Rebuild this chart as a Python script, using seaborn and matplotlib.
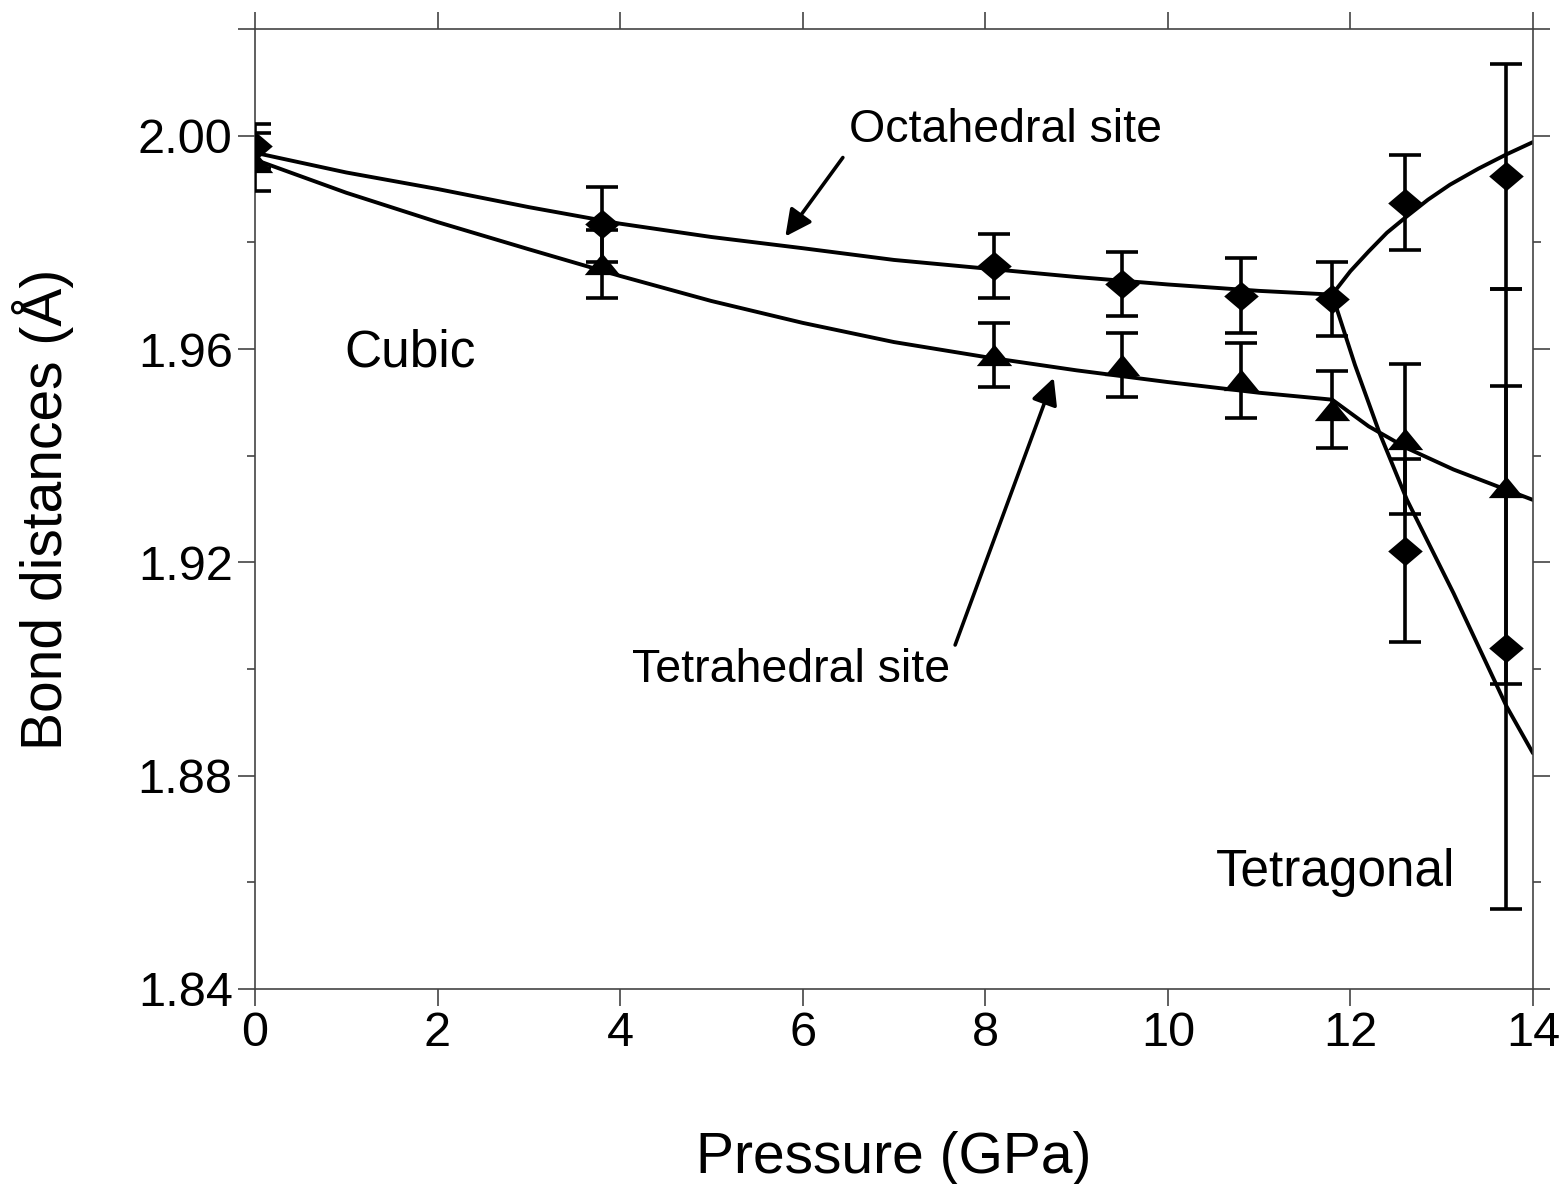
import numpy as np
import pandas as pd
import seaborn as sns
import matplotlib.pyplot as plt
from matplotlib.ticker import FixedLocator, FuncFormatter

# measured points
p_cubic = [0, 3.8, 8.1, 9.5, 10.8, 11.8]
octa_cubic = [1.9980, 1.9834, 1.9756, 1.9721, 1.9700, 1.9694]
octa_cubic_err = [0.0041, 0.0070, 0.0060, 0.0060, 0.0070, 0.0070]

p_tet = [12.6, 13.7]
octa_up = [1.9874, 1.9924]
octa_up_err = [0.0089, 0.0211]
octa_low = [1.9222, 1.9040]
octa_low_err = [0.0171, 0.0490]

p_all = [0, 3.8, 8.1, 9.5, 10.8, 11.8, 12.6, 13.7]
tetra = [1.9951, 1.9760, 1.9589, 1.9570, 1.9541, 1.9486, 1.9431, 1.9342]
tetra_err = [0.0054, 0.0064, 0.0060, 0.0060, 0.0070, 0.0072, 0.0140, 0.0371]

# fitted curves
curve_main_p = [0, 1, 2, 3, 4, 5, 6, 7, 8, 9, 10, 11, 11.8]
curve_octa = [1.9968, 1.9931, 1.9900, 1.9866, 1.9835, 1.9810, 1.9789, 1.9767,
              1.9751, 1.9735, 1.9721, 1.9709, 1.9702]
curve_tetra = [1.9955, 1.9893, 1.9838, 1.9787, 1.9737, 1.9690, 1.9649, 1.9613,
               1.9585, 1.9560, 1.9538, 1.9518, 1.9505]

up_p = [11.8, 12.0, 12.2, 12.4, 12.62, 12.85, 13.09, 13.4, 13.71, 14.0]
up_octa = [1.9702, 1.9746, 1.9783, 1.9818, 1.9849, 1.9880, 1.9908, 1.9938, 1.9965, 1.9988]
low_p = [11.8, 12.05, 12.32, 12.62, 13.13, 13.71, 14.0]
low_octa = [1.9702, 1.9570, 1.9442, 1.9317, 1.9142, 1.8930, 1.8842]
tet_p = [11.8, 12.2, 12.62, 13.13, 13.71, 14.0]
tet_tail = [1.9505, 1.9455, 1.9414, 1.9374, 1.9336, 1.9317]

# labels and arrows (tail -> head), in data units
arrow_octa = [(6.44, 1.9959), (5.81, 1.9811)]
arrow_tetra = [(7.67, 1.9045), (8.75, 1.9546)]

sns.set_style('ticks')
plt.rcParams['font.family'] = ['Liberation Sans', 'DejaVu Sans']
plt.rcParams['text.color'] = 'black'
plt.rcParams['axes.labelcolor'] = 'black'
plt.rcParams['xtick.color'] = 'black'
plt.rcParams['ytick.color'] = 'black'

curves = pd.concat([
    pd.DataFrame({'p': curve_main_p, 'd': curve_octa, 'branch': 'octa'}),
    pd.DataFrame({'p': curve_main_p, 'd': curve_tetra, 'branch': 'tetra'}),
    pd.DataFrame({'p': up_p, 'd': up_octa, 'branch': 'octa_up'}),
    pd.DataFrame({'p': low_p, 'd': low_octa, 'branch': 'octa_low'}),
    pd.DataFrame({'p': tet_p, 'd': tet_tail, 'branch': 'tetra_tail'}),
])

diamonds = pd.DataFrame({'p': p_cubic + p_tet + p_tet,
                         'd': octa_cubic + octa_up + octa_low,
                         'e': octa_cubic_err + octa_up_err + octa_low_err})
triangles = pd.DataFrame({'p': p_all, 'd': tetra, 'e': tetra_err})

fig = plt.figure(figsize=(15.67, 11.84), dpi=100)
ax = fig.add_axes([0.1627, 0.1647, 0.8156, 0.8108])

sns.lineplot(data=curves, x='p', y='d', units='branch', estimator=None, sort=False,
             color='black', lw=2.8, ax=ax, zorder=2)

for df in (diamonds, triangles):
    ax.errorbar(df['p'], df['d'], yerr=df['e'], fmt='none', ecolor='black',
                elinewidth=2.6, capsize=11.5, capthick=2.6, zorder=3)

diamond = [(-1, 0), (0, 0.85), (1, 0), (0, -0.85)]
triangle = [(-1, -0.6), (1, -0.6), (0, 0.62)]
sns.scatterplot(data=diamonds, x='p', y='d', marker=diamond, s=620, color='black',
                edgecolor='black', linewidth=0, ax=ax, zorder=4)
sns.scatterplot(data=triangles, x='p', y='d', marker=triangle, s=650, color='black',
                edgecolor='black', linewidth=0, ax=ax, zorder=4)

ax.set_xlim(0, 14)
ax.set_ylim(1.84, 2.02)
ax.xaxis.set_major_locator(FixedLocator([0, 2, 4, 6, 8, 10, 12, 14]))
ax.yaxis.set_major_locator(FixedLocator([1.84, 1.88, 1.92, 1.96, 2.00, 2.02]))
ax.yaxis.set_minor_locator(FixedLocator([1.86, 1.90, 1.94, 1.98]))
ax.yaxis.set_major_formatter(FuncFormatter(lambda v, pos: '' if v > 2.01 else f'{v:.2f}'))
ax.xaxis.set_major_formatter(FuncFormatter(lambda v, pos: f'{v:.0f}'))

for s in ax.spines.values():
    s.set_visible(True)
    s.set_linewidth(1.2)
    s.set_color('#444444')
ax.tick_params(axis='both', which='major', direction='out', length=12, width=1.2,
               color='#444444', labelsize=35, pad=4, labelcolor='black')
ax.tick_params(axis='y', which='minor', direction='out', length=6, width=1.2,
               color='#444444')
ax.tick_params(top=True, right=True, labeltop=False, labelright=False)
ax.tick_params(axis='y', which='minor', right=True)

ax.set_xlabel('Pressure (GPa)', fontsize=41, labelpad=54)
ax.set_ylabel('Bond distances (Å)', fontsize=41, labelpad=46)

ax.text(1.70, 1.9593, 'Cubic', fontsize=37, ha='center', va='center')
ax.text(11.84, 1.8618, 'Tetragonal', fontsize=37, ha='center', va='center')
ax.text(8.22, 2.0011, 'Octahedral site', fontsize=33.5, ha='center', va='center')
ax.text(5.87, 1.8998, 'Tetrahedral site', fontsize=33.5, ha='center', va='center')

for tail, head in (arrow_octa, arrow_tetra):
    ax.annotate('', xy=head, xytext=tail,
                arrowprops=dict(arrowstyle='-|>', color='black', lw=2.6,
                                mutation_scale=40, shrinkA=0, shrinkB=0))

fig.savefig('out.png', dpi=100)
